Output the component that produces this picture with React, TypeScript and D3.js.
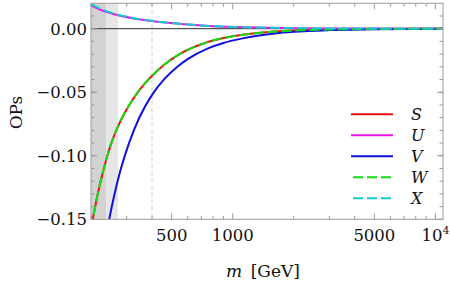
import React from "react";
import * as d3 from "d3";

// values (mass in GeV)
const sMass = [200, 210, 220, 230, 240, 251, 265, 284, 309, 340, 370, 403, 462, 558, 700, 800, 1000, 1200, 1500, 2000, 3000, 5000, 11000];
const sValues = [-0.1576, -0.1395, -0.1242, -0.1118, -0.1007, -0.0908, -0.0810, -0.0705, -0.0601, -0.0501, -0.0428, -0.0366, -0.0280, -0.0192, -0.01225, -0.0093, -0.0059, -0.0041, -0.0026, -0.00143, -0.00062, -0.00022, -0.000045];

const vMass = [238, 246, 261, 281, 309, 346, 403, 462, 530, 602, 755, 900, 1104, 1300, 1612, 2000, 3000, 5000, 11000];
const vValues = [-0.1623, -0.150, -0.1305, -0.1101, -0.0894, -0.0701, -0.0513, -0.0393, -0.0303, -0.0238, -0.0155, -0.0112, -0.0078, -0.0057, -0.0037, -0.0024, -0.00108, -0.00039, -0.00008];

const uMass = [200, 230, 272, 320, 397, 480, 583, 800, 1023, 1500, 2000, 3000, 5000, 11000];
const uValues = [0.0184, 0.0140, 0.0106, 0.0083, 0.0061, 0.0046, 0.0035, 0.0020, 0.0014, 0.0007, 0.0004, 0.0002, 0.0001, 0.00002];
const xValues = [0.0194, 0.0147, 0.0110, 0.0085, 0.0062, 0.0047, 0.0035, 0.0020, 0.0014, 0.0007, 0.0004, 0.0002, 0.0001, 0.00002];

const seriesNames = ["S", "U", "V", "W", "X"];
const seriesColors = ["#ee1111", "#ee11ee", "#1111dd", "#11dd11", "#11cccc"];
const seriesDashed = [false, false, false, true, true];

const xMajorTicks = [500, 1000, 5000, 10000];
const xMinorTicks = [200, 300, 400, 600, 700, 800, 900, 2000, 3000, 4000, 6000, 7000, 8000, 9000];
const yMajorTicks = [-0.15, -0.10, -0.05, 0.0];
const yMinorTicks = d3.range(-14, 2).map(d => d / 100);

const shadeDark = [200, 238];
const shadeLight = [238, 272];
const markerMass = 400;

const W = 450, H = 287;
const margin = { top: 3.3, right: 7, bottom: 67.7, left: 91 };
const font = "'DejaVu Serif', serif";

export default function App() {
  const x = d3.scaleLog().domain([200, 10900]).range([margin.left, W - margin.right]);
  const y = d3.scaleLinear().domain([-0.15, 0.02]).range([H - margin.bottom, margin.top]);
  const x0 = x.range()[0], x1 = x.range()[1];
  const y0 = y.range()[0], y1 = y.range()[1];

  const line = d3.line<[number, number]>()
    .x(d => x(d[0]))
    .y(d => y(d[1]))
    .curve(d3.curveMonotoneX);

  const series = [
    d3.zip(sMass, sValues),
    d3.zip(uMass, uValues),
    d3.zip(vMass, vValues),
    d3.zip(sMass, sValues),
    d3.zip(uMass, xValues),
  ] as [number, number][][];

  const frame = "#9a9a9a";
  const fmt = (v: number) => (v < 0 ? "\u2212" : "") + Math.abs(v).toFixed(2);

  return (
    <svg width={W} height={H} style={{ position: "fixed", left: 0, top: 0, background: "#fff" }}>
      <defs>
        <clipPath id="plot">
          <rect x={x0} y={y1} width={x1 - x0} height={y0 - y1} />
        </clipPath>
      </defs>
      <rect x={x(shadeDark[0])} y={y1} width={x(shadeDark[1]) - x(shadeDark[0])} height={y0 - y1} fill="#d2d2d2" />
      <rect x={x(shadeLight[0])} y={y1} width={x(shadeLight[1]) - x(shadeLight[0])} height={y0 - y1} fill="#e6e6e6" />
      <line x1={x(markerMass)} x2={x(markerMass)} y1={y1} y2={y0} stroke="#cfcfcf" strokeDasharray="4,3" />
      <line x1={x0} x2={x1} y1={y(0)} y2={y(0)} stroke="#555" strokeWidth={1.2} />

      <g clipPath="url(#plot)">
        {series.map((s, i) => (
          <path key={i} d={line(s) || ""} fill="none" stroke={seriesColors[i]} strokeWidth={2}
            strokeDasharray={seriesDashed[i] ? "10,4" : undefined} />
        ))}
      </g>

      {/* frame */}
      <rect x={x0} y={y1} width={x1 - x0} height={y0 - y1} fill="none" stroke={frame} strokeWidth={1} />
      {xMajorTicks.map(t => (
        <g key={"xM" + t}>
          <line x1={x(t)} x2={x(t)} y1={y0} y2={y0 - 6} stroke={frame} />
          <line x1={x(t)} x2={x(t)} y1={y1} y2={y1 + 6} stroke={frame} />
        </g>
      ))}
      {xMinorTicks.map(t => (
        <g key={"xm" + t}>
          <line x1={x(t)} x2={x(t)} y1={y0} y2={y0 - 3.5} stroke={frame} />
          <line x1={x(t)} x2={x(t)} y1={y1} y2={y1 + 3.5} stroke={frame} />
        </g>
      ))}
      {yMinorTicks.map(t => (
        <g key={"ym" + t}>
          <line x1={x0} x2={x0 + 3.5} y1={y(t)} y2={y(t)} stroke={frame} />
          <line x1={x1} x2={x1 - 3.5} y1={y(t)} y2={y(t)} stroke={frame} />
        </g>
      ))}
      {yMajorTicks.map(t => (
        <g key={"yM" + t}>
          <line x1={x0} x2={x0 + 6} y1={y(t)} y2={y(t)} stroke={frame} />
          <line x1={x1} x2={x1 - 6} y1={y(t)} y2={y(t)} stroke={frame} />
          <text x={x0 - 4} y={y(t)} dy="0.36em" textAnchor="end" fontFamily={font} fontSize={16.5} fill="#111">
            {fmt(t)}
          </text>
        </g>
      ))}
      {xMajorTicks.map(t => (
        <text key={"xl" + t} x={x(t)} y={y0 + 22} textAnchor="middle" fontFamily={font} fontSize={16.5} fill="#111">
          {t === 10000 ? <>10<tspan dy={-7} fontSize={11}>4</tspan></> : t}
        </text>
      ))}

      {/* axis titles */}
      <text x={263} y={277} textAnchor="middle" fontFamily={font} fontSize={17} fill="#111">
        <tspan fontStyle="italic">m</tspan>{"\u2002[GeV]"}
      </text>
      <text transform="translate(22,112.5) rotate(-90)" textAnchor="middle" fontFamily={font} fontSize={17} fill="#111">
        OPs
      </text>

      {/* legend */}
      {seriesNames.map((n, i) => {
        const ly = 114.3 + i * 21;
        return (
          <g key={n}>
            <line x1={351} x2={393} y1={ly} y2={ly} stroke={seriesColors[i]} strokeWidth={2}
              strokeDasharray={seriesDashed[i] ? "10,4" : undefined} strokeDashoffset={seriesDashed[i] ? -2 : 0} />
            <text x={411} y={ly} dy="0.35em" fontFamily={font} fontStyle="italic" fontSize={16} fill="#111">{n}</text>
          </g>
        );
      })}
    </svg>
  );
}
